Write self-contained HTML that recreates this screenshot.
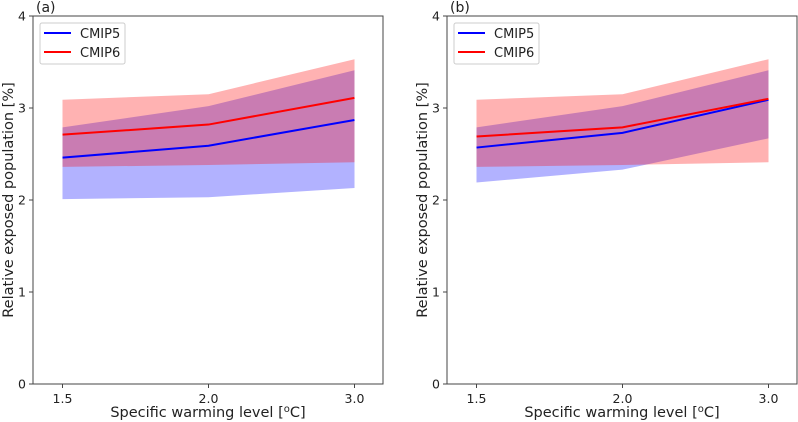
<!DOCTYPE html>
<html><head><meta charset="utf-8"><style>
body{margin:0;background:#fff;}
svg{display:block;font-family:"DejaVu Sans","Liberation Sans",sans-serif;}
</style></head><body>
<svg id="chart" width="798" height="422"></svg>
<script>
const categories = ["1.5","2.0","3.0"];
const yTicks = [0,1,2,3,4];
const aCmip5Mean = [2.46,2.59,2.87];
const aCmip5Low = [2.01,2.03,2.13];
const aCmip5High = [2.79,3.02,3.41];
const aCmip6Mean = [2.71,2.82,3.11];
const aCmip6Low = [2.36,2.38,2.41];
const aCmip6High = [3.09,3.15,3.53];
const bCmip5Mean = [2.57,2.73,3.09];
const bCmip5Low = [2.19,2.33,2.67];
const bCmip5High = [2.79,3.02,3.41];
const bCmip6Mean = [2.69,2.79,3.10];
const bCmip6Low = [2.36,2.38,2.41];
const bCmip6High = [3.09,3.15,3.53];

const NS="http://www.w3.org/2000/svg";
const svg=document.getElementById('chart');
function mk(tag,attrs,parent){const e=document.createElementNS(NS,tag);for(const k in attrs)e.setAttribute(k,attrs[k]);(parent||svg).appendChild(e);return e;}

function panel(left,label,m5,l5,h5,m6,l6,h6,nm){
  const right=left+350, top=16, bottom=384;
  const g=mk('g',{});
  
  
  const x=i=>left+29.5+i*146;
  const y=v=>bottom-(v/4)*(bottom-top);
  function band(lo,hi,col,name){
    let d='M'+lo.map((v,i)=>x(i)+','+y(v)).join(' L');
    d+=' L'+hi.map((v,i)=>[i,v]).reverse().map(([i,v])=>x(i)+','+y(v)).join(' L')+' Z';
    const p=mk('path',{d:d,fill:col,'fill-opacity':0.3,stroke:'none'},g);
    
    
  }
  function line(vals,col,name){
    const p=mk('polyline',{points:vals.map((v,i)=>x(i)+','+y(v)).join(' '),fill:'none',stroke:col,'stroke-width':2},g);
    
    
  }
  band(l5,h5,'#0000ff','cmip5-range-band');
  band(l6,h6,'#ff0000','cmip6-range-band');
  line(m5,'#0000ff','cmip5-mean-line');
  line(m6,'#ff0000','cmip6-mean-line');
  const fr=mk('rect',{x:left,y:top,width:350,height:bottom-top,fill:'none',stroke:'#444','stroke-width':1},g);
  
  
  yTicks.forEach(v=>{
    mk('line',{x1:left-4,x2:left,y1:y(v),y2:y(v),stroke:'#444'},g);
    const t=mk('text',{x:left-7,y:y(v)+4.5,'text-anchor':'end','font-size':12.5,fill:'#222'},g);
    t.textContent=v;
    
    
  });
  categories.forEach((c,i)=>{
    mk('line',{x1:x(i),x2:x(i),y1:bottom,y2:bottom+4,stroke:'#444'},g);
    const t=mk('text',{x:x(i),y:bottom+19,'text-anchor':'middle','font-size':12.5,fill:'#222'},g);
    t.textContent=c;
    
    
  });
  const xl=mk('text',{x:left+175,y:417,'text-anchor':'middle','font-size':14.5,fill:'#222'},g);
  xl.innerHTML='Specific warming level [<tspan font-size="10" dy="-5">o</tspan><tspan dy="5">C]</tspan>';
  
  
  const yl=mk('text',{x:0,y:0,transform:`translate(${left-20},${(top+bottom)/2}) rotate(-90)`,'text-anchor':'middle','font-size':14.5,fill:'#222'},g);
  yl.textContent='Relative exposed population [%]';
  
  
  const pl=mk('text',{x:left+3,y:12,'font-size':14,fill:'#222'},g);
  pl.textContent=label;
  
  
  const lg=mk('g',{},g);
  
  
  mk('rect',{x:left+7,y:23,width:85,height:41,rx:2,fill:'#fff','fill-opacity':0.8,stroke:'#ccc'},lg);
  [['CMIP5','#0000ff'],['CMIP6','#ff0000']].forEach(([n,c],k)=>{
    const yy=33+k*19;
    const li=mk('line',{x1:left+11,x2:left+38,y1:yy,y2:yy,stroke:c,'stroke-width':2},lg);
    
    
    const t=mk('text',{x:left+47,y:yy+5,'font-size':13,fill:'#222'},lg);
    t.textContent=n;
    
    
  });
}
panel(33,'(a)',aCmip5Mean,aCmip5Low,aCmip5High,aCmip6Mean,aCmip6Low,aCmip6High,'a');
panel(447,'(b)',bCmip5Mean,bCmip5Low,bCmip5High,bCmip6Mean,bCmip6Low,bCmip6High,'b');
</script>
</body></html>
